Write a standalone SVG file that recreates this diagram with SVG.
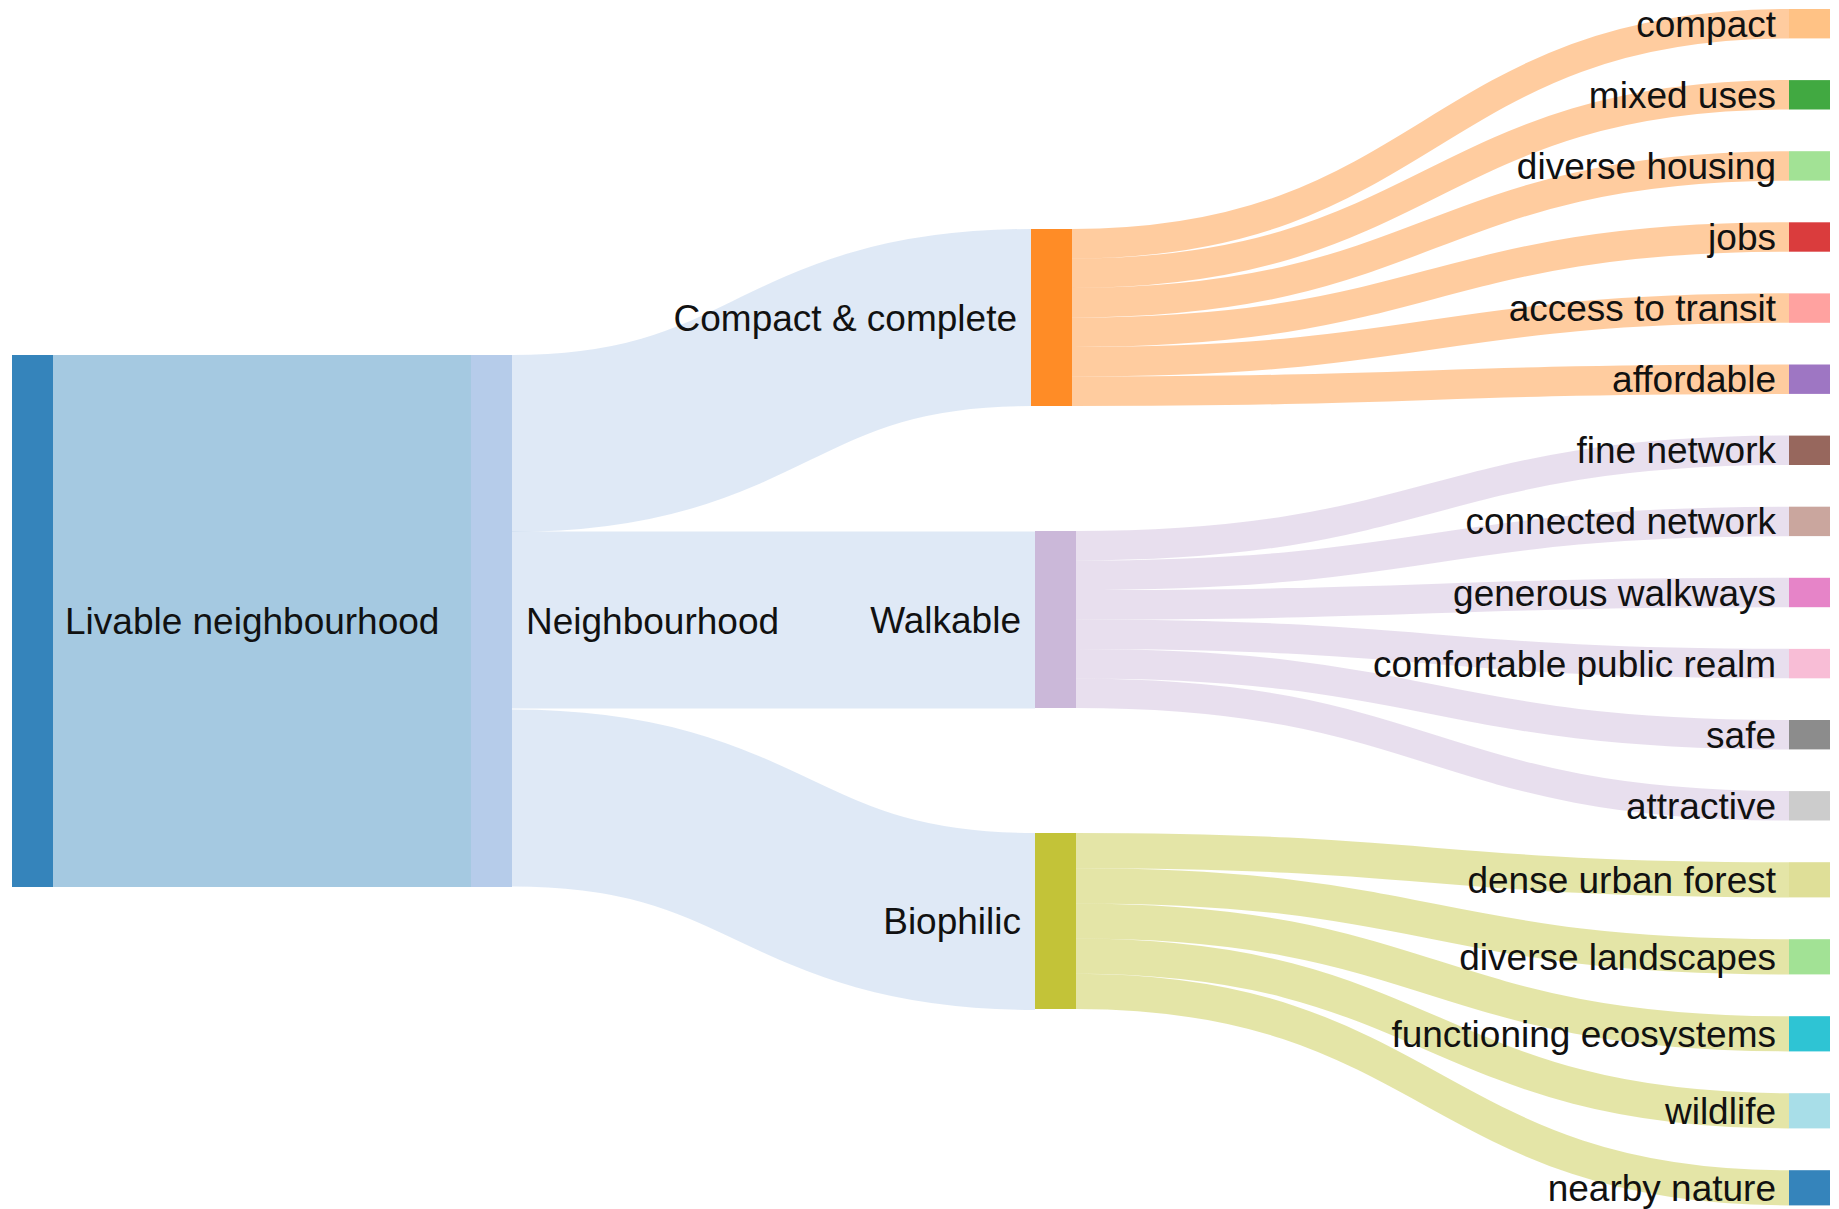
<svg xmlns="http://www.w3.org/2000/svg" width="1839" height="1209" viewBox="0 0 1839 1209">
<style>
.bg{fill:#ffffff}
.link{fill:none;stroke-opacity:0.4}
.l-liv{stroke:#1f77b4}
.l-nbh{stroke:#aec7e8}
.l-cmp{stroke:#ff7f0e}
.l-wlk{stroke:#c5b0d5}
.l-bio{stroke:#bcbd22}
.node rect{fill-opacity:0.9}
.node text{font-family:"Liberation Sans",Arial,Helvetica,sans-serif;font-size:37px;fill:#111111}
.end{text-anchor:end}
</style>
<rect class="bg" x="0" y="0" width="1839" height="1209"/>
<g id="links">
  <path class="link l-liv" stroke-width="532" d="M53,621 L471,621"/>
  <path class="link l-nbh" stroke-width="177" d="M512,443.5 C771.5,443.5 771.5,317.5 1031,317.5"/>
  <path class="link l-nbh" stroke-width="177" d="M512,620 C773.5,620 773.5,620 1035,620"/>
  <path class="link l-nbh" stroke-width="177" d="M512,798 C773.5,798 773.5,921.5 1035,921.5"/>

  <path class="link l-cmp" stroke-width="29.5" d="M1072,243.75 C1430.5,243.75 1430.5,23.7 1789,23.7"/>
  <path class="link l-cmp" stroke-width="29.5" d="M1072,273.25 C1430.5,273.25 1430.5,94.8 1789,94.8"/>
  <path class="link l-cmp" stroke-width="29.5" d="M1072,302.75 C1430.5,302.75 1430.5,165.9 1789,165.9"/>
  <path class="link l-cmp" stroke-width="29.5" d="M1072,332.25 C1430.5,332.25 1430.5,237 1789,237"/>
  <path class="link l-cmp" stroke-width="29.5" d="M1072,361.75 C1430.5,361.75 1430.5,308.1 1789,308.1"/>
  <path class="link l-cmp" stroke-width="29.5" d="M1072,391.25 C1430.5,391.25 1430.5,379.2 1789,379.2"/>

  <path class="link l-wlk" stroke-width="29.5" d="M1076,545.75 C1432.5,545.75 1432.5,450.3 1789,450.3"/>
  <path class="link l-wlk" stroke-width="29.5" d="M1076,575.25 C1432.5,575.25 1432.5,521.4 1789,521.4"/>
  <path class="link l-wlk" stroke-width="29.5" d="M1076,604.75 C1432.5,604.75 1432.5,592.5 1789,592.5"/>
  <path class="link l-wlk" stroke-width="29.5" d="M1076,634.25 C1432.5,634.25 1432.5,663.6 1789,663.6"/>
  <path class="link l-wlk" stroke-width="29.5" d="M1076,663.75 C1432.5,663.75 1432.5,734.7 1789,734.7"/>
  <path class="link l-wlk" stroke-width="29.5" d="M1076,693.25 C1432.5,693.25 1432.5,805.8 1789,805.8"/>

  <path class="link l-bio" stroke-width="35.2" d="M1076,850.6 C1432.5,850.6 1432.5,879.8 1789,879.8"/>
  <path class="link l-bio" stroke-width="35.2" d="M1076,885.8 C1432.5,885.8 1432.5,956.8 1789,956.8"/>
  <path class="link l-bio" stroke-width="35.2" d="M1076,921 C1432.5,921 1432.5,1033.8 1789,1033.8"/>
  <path class="link l-bio" stroke-width="35.2" d="M1076,956.2 C1432.5,956.2 1432.5,1110.8 1789,1110.8"/>
  <path class="link l-bio" stroke-width="35.2" d="M1076,991.4 C1432.5,991.4 1432.5,1187.8 1789,1187.8"/>
</g>

<g id="node-livable" class="node"><rect x="12" y="355" width="41" height="532" fill="#1f77b4"/><text x="65" y="634">Livable neighbourhood</text></g>
<g id="node-neighbourhood" class="node"><rect x="471" y="355" width="41" height="532" fill="#aec7e8"/><text x="526" y="634">Neighbourhood</text></g>
<g id="node-compact-complete" class="node"><rect x="1031" y="229" width="41" height="177" fill="#ff7f0e"/><text class="end" x="1017" y="330.5">Compact &amp; complete</text></g>
<g id="node-walkable" class="node"><rect x="1035" y="531" width="41" height="177" fill="#c5b0d5"/><text class="end" x="1021" y="632.5">Walkable</text></g>
<g id="node-biophilic" class="node"><rect x="1035" y="833" width="41" height="176" fill="#bcbd22"/><text class="end" x="1021" y="934">Biophilic</text></g>

<g id="node-compact" class="node"><rect x="1789" y="9" width="41" height="29.4" fill="#ffbb78"/><text class="end" x="1776" y="36.7">compact</text></g>
<g id="node-mixed-uses" class="node"><rect x="1789" y="80.1" width="41" height="29.4" fill="#2ca02c"/><text class="end" x="1776" y="107.8">mixed uses</text></g>
<g id="node-diverse-housing" class="node"><rect x="1789" y="151.2" width="41" height="29.4" fill="#98df8a"/><text class="end" x="1776" y="178.9">diverse housing</text></g>
<g id="node-jobs" class="node"><rect x="1789" y="222.3" width="41" height="29.4" fill="#d62728"/><text class="end" x="1776" y="250">jobs</text></g>
<g id="node-access-to-transit" class="node"><rect x="1789" y="293.4" width="41" height="29.4" fill="#ff9896"/><text class="end" x="1776" y="321.1">access to transit</text></g>
<g id="node-affordable" class="node"><rect x="1789" y="364.5" width="41" height="29.4" fill="#9467bd"/><text class="end" x="1776" y="392.2">affordable</text></g>
<g id="node-fine-network" class="node"><rect x="1789" y="435.6" width="41" height="29.4" fill="#8c564b"/><text class="end" x="1776" y="463.3">fine network</text></g>
<g id="node-connected-network" class="node"><rect x="1789" y="506.7" width="41" height="29.4" fill="#c49c94"/><text class="end" x="1776" y="534.4">connected network</text></g>
<g id="node-generous-walkways" class="node"><rect x="1789" y="577.8" width="41" height="29.4" fill="#e377c2"/><text class="end" x="1776" y="605.5">generous walkways</text></g>
<g id="node-comfortable-public-realm" class="node"><rect x="1789" y="648.9" width="41" height="29.4" fill="#f7b6d2"/><text class="end" x="1776" y="676.6">comfortable public realm</text></g>
<g id="node-safe" class="node"><rect x="1789" y="720" width="41" height="29.4" fill="#7f7f7f"/><text class="end" x="1776" y="747.7">safe</text></g>
<g id="node-attractive" class="node"><rect x="1789" y="791.1" width="41" height="29.4" fill="#c7c7c7"/><text class="end" x="1776" y="818.8">attractive</text></g>
<g id="node-dense-urban-forest" class="node"><rect x="1789" y="862.2" width="41" height="35.2" fill="#dbdb8d"/><text class="end" x="1776" y="892.8">dense urban forest</text></g>
<g id="node-diverse-landscapes" class="node"><rect x="1789" y="939.2" width="41" height="35.2" fill="#98df8a"/><text class="end" x="1776" y="969.8">diverse landscapes</text></g>
<g id="node-functioning-ecosystems" class="node"><rect x="1789" y="1016.2" width="41" height="35.2" fill="#17becf"/><text class="end" x="1776" y="1046.8">functioning ecosystems</text></g>
<g id="node-wildlife" class="node"><rect x="1789" y="1093.2" width="41" height="35.2" fill="#9edae5"/><text class="end" x="1776" y="1123.8">wildlife</text></g>
<g id="node-nearby-nature" class="node"><rect x="1789" y="1170.2" width="41" height="35.2" fill="#1f77b4"/><text class="end" x="1776" y="1200.8">nearby nature</text></g>
</svg>
